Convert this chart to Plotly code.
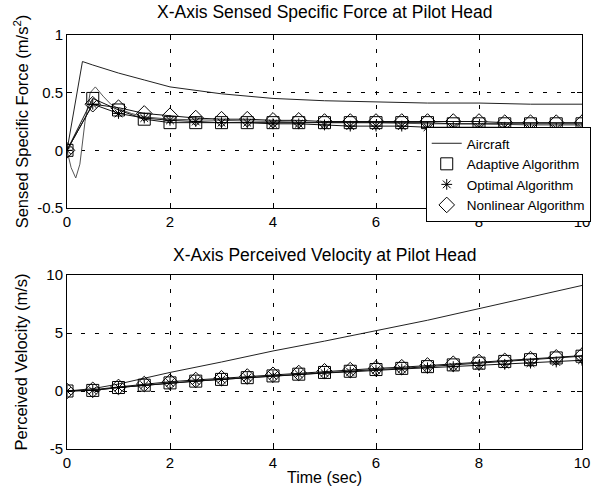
import plotly.graph_objects as go

# ---------------- data ----------------
t_mark = [0, 0.5, 1, 1.5, 2, 2.5, 3, 3.5, 4, 4.5, 5, 5.5, 6, 6.5, 7, 7.5, 8, 8.5, 9, 9.5, 10]

# top: sensed specific force
t_air_f = [0, 0.3, 0.5, 1, 1.5, 2, 3, 4, 5, 6, 7, 8, 9, 10]
air_force = [0, 0.77, 0.74, 0.67, 0.61, 0.55, 0.49, 0.45, 0.43, 0.42, 0.41, 0.41, 0.40, 0.40]

adaptive_force = [0, 0.45, 0.35, 0.27, 0.24, 0.24, 0.24, 0.24, 0.24, 0.24, 0.24, 0.24, 0.24,
                  0.24, 0.24, 0.23, 0.23, 0.23, 0.23, 0.23, 0.23]
optimal_force = [0, 0.40, 0.32, 0.28, 0.26, 0.25, 0.24, 0.24, 0.23, 0.23, 0.22, 0.21, 0.21,
                 0.21, 0.20, 0.20, 0.20, 0.20, 0.19, 0.19, 0.19]
nonlinear_force = [0, 0.40, 0.37, 0.32, 0.30, 0.28, 0.27, 0.27, 0.26, 0.26, 0.25, 0.25, 0.25,
                   0.25, 0.25, 0.25, 0.25, 0.24, 0.24, 0.24, 0.24]

# continuous response line (oscillating start)
t_cont = [0, 0.08, 0.17, 0.25, 0.35, 0.45, 0.55, 0.7, 0.85, 1.0, 1.25, 1.5, 2, 3, 4, 5, 6, 7, 8, 9, 10]
cont_force = [0, -0.15, -0.24, -0.12, 0.25, 0.50, 0.55, 0.47, 0.40, 0.36, 0.32, 0.29, 0.27, 0.26,
              0.25, 0.24, 0.24, 0.23, 0.23, 0.22, 0.22]

# bottom: perceived velocity
t_air_v = [0, 0.5, 1, 2, 3, 4, 5, 6, 7, 8, 9, 10]
air_vel = [0, 0.2, 0.6, 1.6, 2.5, 3.45, 4.3, 5.2, 6.1, 7.1, 8.1, 9.1]

adaptive_vel = [0, 0.05, 0.3, 0.5, 0.7, 0.85, 1.0, 1.15, 1.3, 1.45, 1.6, 1.7, 1.85, 1.95, 2.1,
                2.25, 2.4, 2.55, 2.7, 2.85, 3.0]
optimal_vel = [0, 0.05, 0.3, 0.5, 0.7, 0.85, 1.0, 1.15, 1.3, 1.45, 1.55, 1.65, 1.8, 1.9, 2.0,
               2.1, 2.2, 2.3, 2.4, 2.5, 2.65]
nonlinear_vel = [0, 0.1, 0.35, 0.6, 0.8, 0.95, 1.1, 1.25, 1.4, 1.55, 1.7, 1.8, 1.95, 2.05, 2.2,
                 2.35, 2.5, 2.6, 2.75, 2.9, 3.05]

x_ticks = [0, 2, 4, 6, 8, 10]
y1_ticks = [-0.5, 0, 0.5, 1]
y1_labels = ["-0.5", "0", "0.5", "1"]
y2_ticks = [-5, 0, 5, 10]
y2_labels = ["-5", "0", "5", "10"]

# ---------------- figure ----------------
FONT = "Arial, Liberation Sans, sans-serif"
fig = go.Figure()

def add_set(xa, ya, t_air, air, adaptive, optimal, nonlinear, legend):
    fig.add_trace(go.Scatter(x=t_air, y=air, mode="lines", name="Aircraft",
                             line=dict(color="#222222", width=1), xaxis=xa, yaxis=ya,
                             showlegend=legend))
    for vals in (adaptive, optimal, nonlinear):
        fig.add_trace(go.Scatter(x=t_mark, y=vals, mode="lines",
                                 line=dict(color="#111111", width=1), xaxis=xa, yaxis=ya,
                                 showlegend=False, hoverinfo="skip"))
    fig.add_trace(go.Scatter(x=t_mark, y=adaptive, mode="markers", name="Adaptive Algorithm",
                             marker=dict(symbol="square-open", size=12, color="black",
                                         line=dict(width=1)),
                             xaxis=xa, yaxis=ya, showlegend=legend))
    fig.add_trace(go.Scatter(x=t_mark, y=optimal, mode="markers", name="Optimal Algorithm",
                             marker=dict(symbol="asterisk-open", size=9, color="black",
                                         line=dict(width=1, color="black")),
                             xaxis=xa, yaxis=ya, showlegend=legend))
    fig.add_trace(go.Scatter(x=t_mark, y=nonlinear, mode="markers", name="Nonlinear Algorithm",
                             marker=dict(symbol="diamond-open", size=12, color="black",
                                         line=dict(width=1)),
                             xaxis=xa, yaxis=ya, showlegend=legend))

fig.add_trace(go.Scatter(x=t_cont, y=cont_force, mode="lines",
                         line=dict(color="#555555", width=1), xaxis="x", yaxis="y",
                         showlegend=False, hoverinfo="skip"))
add_set("x", "y", t_air_f, air_force, adaptive_force, optimal_force, nonlinear_force, True)
add_set("x2", "y2", t_air_v, air_vel, adaptive_vel, optimal_vel, nonlinear_vel, False)

axis_common = dict(showline=True, linecolor="black", linewidth=1, mirror="ticks",
                   ticks="inside", ticklen=5, tickcolor="black",
                   showgrid=True, gridcolor="black", gridwidth=1, griddash="4px,10px",
                   zeroline=False, tickfont=dict(family=FONT, size=15, color="black"))

H = 492
top_px, bot_px = 35, 449
plot_h = bot_px - top_px
def fy(px):
    return (bot_px - px) / plot_h

fig.update_layout(
    width=600, height=492,
    margin=dict(l=67, r=9, t=top_px, b=H - bot_px),
    paper_bgcolor="white", plot_bgcolor="white",
    font=dict(family=FONT, size=15, color="black"),
    xaxis=dict(domain=[0, 1], range=[0, 10], tickvals=x_ticks, anchor="y", **axis_common),
    yaxis=dict(domain=[fy(208), 1], range=[-0.5, 1], tickvals=y1_ticks, ticktext=y1_labels,
               anchor="x", title=dict(text="Sensed Specific Force (m/s<sup>2</sup>)",
                                      font=dict(size=16.5), standoff=4), **axis_common),
    xaxis2=dict(domain=[0, 1], range=[0, 10], tickvals=x_ticks, anchor="y2",
                title=dict(text="Time (sec)", font=dict(size=16), standoff=1), **axis_common),
    yaxis2=dict(domain=[0, fy(275)], range=[-5, 10], tickvals=y2_ticks, ticktext=y2_labels,
                anchor="x2", title=dict(text="Perceived Velocity (m/s)", font=dict(size=16.5),
                                        standoff=14), **axis_common),
    legend=dict(x=(432 - 67) / 524, y=fy(127), xanchor="left", yanchor="top",
                bgcolor="white", bordercolor="black", borderwidth=1,
                font=dict(family=FONT, size=13.5), tracegroupgap=0, itemwidth=30),
    annotations=[
        dict(text="X-Axis Sensed Specific Force at Pilot Head", xref="paper", yref="paper",
             x=0.5, y=fy(12), xanchor="center", yanchor="middle", showarrow=False,
             font=dict(size=17.5)),
        dict(text="X-Axis Perceived Velocity at Pilot Head", xref="paper", yref="paper",
             x=0.5, y=fy(255), xanchor="center", yanchor="middle", showarrow=False,
             font=dict(size=17.5)),
    ],
)

fig.write_html("out.html")
